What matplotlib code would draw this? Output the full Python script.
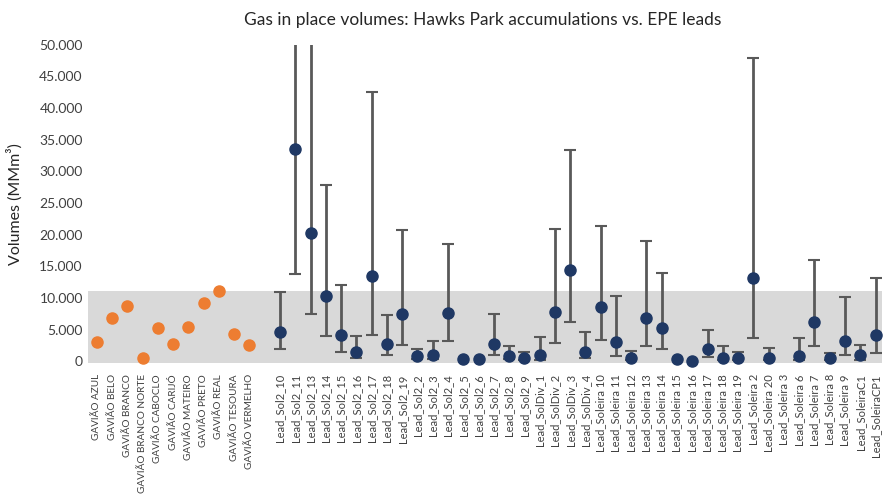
import numpy as np
import matplotlib
matplotlib.use("Agg")
import matplotlib.pyplot as plt
from matplotlib.ticker import FuncFormatter

plt.rcParams['font.family'] = ['Lato', 'DejaVu Sans']

# Hawks Park accumulations (orange)
fields = ["GAVIÃO AZUL", "GAVIÃO BELO", "GAVIÃO BRANCO", "GAVIÃO BRANCO NORTE",
          "GAVIÃO CABOCLO", "GAVIÃO CARIJÓ", "GAVIÃO MATEIRO", "GAVIÃO PRETO",
          "GAVIÃO REAL", "GAVIÃO TESOURA", "GAVIÃO VERMELHO"]
field_vol = [3050, 6750, 8700, 520, 5170, 2740, 5430, 9130, 11030, 4270, 2530]

# EPE leads (blue) with low/high ranges
leads = ["Lead_Sol2_10", "Lead_Sol2_11", "Lead_Sol2_13", "Lead_Sol2_14", "Lead_Sol2_15",
         "Lead_Sol2_16", "Lead_Sol2_17", "Lead_Sol2_18", "Lead_Sol2_19", "Lead_Sol2_2",
         "Lead_Sol2_3", "Lead_Sol2_4", "Lead_Sol2_5", "Lead_Sol2_6", "Lead_Sol2_7",
         "Lead_Sol2_8", "Lead_Sol2_9", "Lead_SolDiv_1", "Lead_SolDiv_2", "Lead_SolDiv_3",
         "Lead_SolDiv_4", "Lead_Soleira 10", "Lead_Soleira 11", "Lead_Soleira 12",
         "Lead_Soleira 13", "Lead_Soleira 14", "Lead_Soleira 15", "Lead_Soleira 16",
         "Lead_Soleira 17", "Lead_Soleira 18", "Lead_Soleira 19", "Lead_Soleira 2",
         "Lead_Soleira 20", "Lead_Soleira 3", "Lead_Soleira 6", "Lead_Soleira 7",
         "Lead_Soleira 8", "Lead_Soleira 9", "Lead_SoleiraC1", "Lead_SoleiraCP1"]
lead_mid = [4540, 33490, 20300, 10330, 4110, 1370, 13400, 2690, 7440, 790,
            950, 7540, 270, 270, 2690, 790, 420, 950, 7750, 14350,
            1470, 8490, 2950, 420, 6800, 5220, 270, 60, 1900, 530,
            420, 13130, 530, np.nan, 790, 6220, 420, 3160, 950, 4110]
lead_low = [1900, 13710, 7380, 3950, 1370, 420, 4170, 1000, 2630, 400,
            300, 3110, np.nan, np.nan, 1050, 300, 150, 160, 2800, 6120,
            430, 3380, 840, 150, 2430, 1900, np.nan, np.nan, 690, 200,
            150, 3640, 150, np.nan, 250, 2430, 150, 1050, 160, 1260]
lead_high = [10960, 60000, 60000, 27900, 11970, 3900, 42600, 7330, 20720, 1850,
             3110, 18510, np.nan, np.nan, 7490, 2430, 1480, 3800, 20880, 33380,
             4640, 21360, 10330, 1580, 18980, 13870, np.nan, np.nan, 4900, 2430,
             1420, 47980, 2110, np.nan, 3640, 15980, 1210, 10170, 2530, 13080]

band_top = 11100
yticks = list(range(0, 50001, 5000))

categories = fields + [""] + leads
x_fields = np.arange(len(fields))
x_leads = np.arange(len(fields) + 1, len(categories))

fig = plt.figure(figsize=(8.94, 4.98), dpi=100)
ax = fig.add_axes([0.098, 0.271, 0.889, 0.639])

ax.axhspan(-300, band_top, color="#D9D9D9", zorder=0, lw=0)

mid = np.array(lead_mid, dtype=float)
low = np.array(lead_low, dtype=float)
high = np.array(lead_high, dtype=float)
err = np.vstack([mid - low, high - mid])
ax.errorbar(x_leads, mid, yerr=err, fmt="none", ecolor="#595959",
            elinewidth=2, capsize=4, capthick=1.5, zorder=2)
ax.plot(x_leads, mid, "o", color="#1F3864", markersize=8, zorder=3, clip_on=False)
ax.plot(x_fields, field_vol, "o", color="#ED7D31", markersize=8, zorder=3, clip_on=False)

ax.set_xlim(-0.6, len(categories) - 0.55)
ax.set_ylim(-300, 50000)
ax.set_yticks(yticks)
ax.yaxis.set_major_formatter(FuncFormatter(lambda v, p: f"{int(v):,}".replace(",", ".")))
ax.set_xticks(np.arange(len(categories)))
ax.set_xticklabels(categories, rotation=90)
ax.tick_params(axis="both", length=0, colors="#404040")
ax.tick_params(axis="y", labelsize=10)
ax.tick_params(axis="x", labelsize=8, pad=8)
for lbl in ax.get_xticklabels()[:len(fields)]:
    lbl.set_fontsize(7.2)
for s in ax.spines.values():
    s.set_visible(False)

ax.set_ylabel("Volumes (MMm³)", fontsize=11.5, color="#262626", labelpad=12)
fig.suptitle("Gas in place volumes: Hawks Park accumulations vs. EPE leads",
             x=0.54, y=0.975, fontsize=12.5, color="#262626")

fig.savefig("out.png", dpi=100, facecolor="white")
